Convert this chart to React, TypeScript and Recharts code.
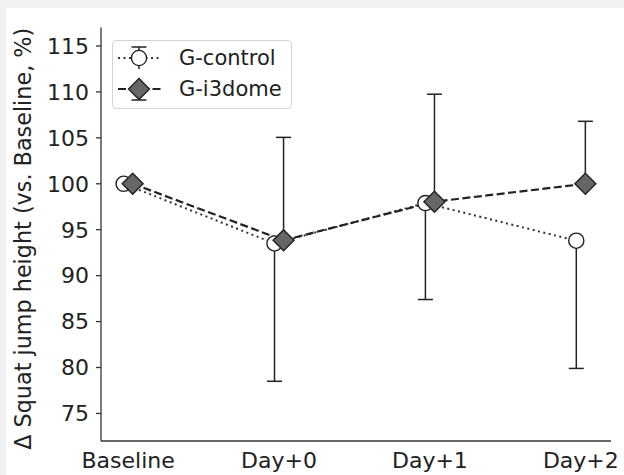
import React from "react";
import {
  ComposedChart,
  Line,
  XAxis,
  YAxis,
  ErrorBar,
  Legend,
} from "recharts";

const categories = ["Baseline", "Day+0", "Day+1", "Day+2"];
const controlMean = [100, 93.5, 97.9, 93.8];
const controlLowerErr = [0, 15.0, 10.5, 13.9];
const i3domeMean = [100, 93.85, 98.05, 100];
const i3domeUpperErr = [0, 11.2, 11.7, 6.8];
const yTicks = [75, 80, 85, 90, 95, 100, 105, 110, 115];

const OFFSET = 0.03;
const FONT = "'DejaVu Sans', sans-serif";
const INK = "#222";

const controlData = categories.map((c, i) => ({
  x: i - OFFSET,
  y: controlMean[i],
  err: [controlLowerErr[i], 0],
}));
const i3domeData = categories.map((c, i) => ({
  x: i + OFFSET,
  y: i3domeMean[i],
  err: [0, i3domeUpperErr[i]],
}));

const CircleDot = (props: any) => {
  const { cx, cy } = props;
  if (cx == null || cy == null) return null;
  return <circle cx={cx} cy={cy} r={7.6} fill="#fff" stroke={INK} strokeWidth={1.4} />;
};

const DiamondDot = (props: any) => {
  const { cx, cy } = props;
  if (cx == null || cy == null) return null;
  const r = 10.5;
  return (
    <path
      d={`M${cx},${cy - r}L${cx + r},${cy}L${cx},${cy + r}L${cx - r},${cy}Z`}
      fill="#666"
      stroke={INK}
      strokeWidth={1.4}
    />
  );
};

const LegendBox = () => (
  <div
    style={{
      width: 180,
      height: 69,
      boxSizing: "border-box",
      border: "1px solid #d4d4d4",
      borderRadius: 4,
      background: "rgba(255,255,255,0.85)",
    }}
  >
    <svg width={178} height={67} style={{ display: "block" }}>
      {/* G-control row */}
      <line x1={5} x2={49} y1={17} y2={17} stroke="#333" strokeWidth={2} strokeDasharray="2 3.5" />
      <line x1={26} x2={26} y1={6} y2={28} stroke={INK} strokeWidth={1.5} />
      <line x1={18.5} x2={33.5} y1={6} y2={6} stroke={INK} strokeWidth={1.5} />
      <circle cx={26} cy={17} r={7.6} fill="#fff" stroke={INK} strokeWidth={1.4} />
      <text x={66} y={17} dominantBaseline="central" fontFamily={FONT} fontSize={21} fill={INK}>
        G-control
      </text>
      {/* G-i3dome row */}
      <line x1={5} x2={49} y1={48} y2={48} stroke="#222" strokeWidth={2.2} strokeDasharray="8 3.5" />
      <line x1={26} x2={26} y1={37} y2={59} stroke={INK} strokeWidth={1.5} />
      <line x1={18.5} x2={33.5} y1={59} y2={59} stroke={INK} strokeWidth={1.5} />
      <path d="M26,37.5L36.5,48L26,58.5L15.5,48Z" fill="#666" stroke={INK} strokeWidth={1.4} />
      <text x={66} y={48} dominantBaseline="central" fontFamily={FONT} fontSize={21} fill={INK}>
        G-i3dome
      </text>
    </svg>
  </div>
);

const YLabel = (props: any) => {
  const vb = props.viewBox || {};
  const cy = (vb.y ?? 0) + (vb.height ?? 0) / 2 + 4.5;
  return (
    <text
      x={31}
      y={cy}
      transform={`rotate(-90, 31, ${cy})`}
      textAnchor="middle"
      fontFamily={FONT}
      fontSize={22.3}
      fill={INK}
    >
      Δ Squat jump height (vs. Baseline, %)
    </text>
  );
};

export default function App() {
  return (
    <div style={{ position: "absolute", left: 0, top: 0, width: 624, height: 475, background: "#f1f1f1" }}>
      <div style={{ position: "absolute", left: 6, top: 8, right: 0, bottom: 0, background: "#fff" }} />
      <div style={{ position: "absolute", left: 0, top: 0 }}>
        <ComposedChart
          width={624}
          height={475}
          margin={{ top: 27.6, right: 13, bottom: 0, left: 0 }}
        >
          <XAxis
            dataKey="x"
            type="number"
            domain={[-0.18, 3.2]}
            ticks={[0, 1, 2, 3]}
            tickFormatter={(v) => categories[Math.round(v)]}
            allowDataOverflow
            height={34}
            tickLine={false}
            tickSize={0}
            tickMargin={11}
            axisLine={{ stroke: "#333", strokeWidth: 1.3 }}
            tick={{ fontSize: 22, fontFamily: FONT, fill: INK }}
          />
          <YAxis
            type="number"
            domain={[72, 117]}
            ticks={yTicks}
            allowDataOverflow
            width={101}
            tickSize={5}
            tickMargin={7}
            tickLine={{ stroke: "#333", strokeWidth: 1.3 }}
            axisLine={{ stroke: "#333", strokeWidth: 1.3 }}
            tick={{ fontSize: 22, fontFamily: FONT, fill: INK }}
            label={<YLabel />}
          />
          <Legend
            layout="vertical"
            align="center"
            verticalAlign="middle"
            wrapperStyle={{ position: "absolute", left: 112, top: 40, width: 180, height: 69 }}
            content={() => <LegendBox />}
          />
          <Line
            name="G-control"
            data={controlData}
            dataKey="y"
            stroke="#333"
            strokeWidth={2}
            strokeDasharray="2 3.5"
            dot={<CircleDot />}
            activeDot={false}
            isAnimationActive={false}
          >
            <ErrorBar dataKey="err" direction="y" width={7.5} stroke={INK} strokeWidth={1.5} />
          </Line>
          <Line
            name="G-i3dome"
            data={i3domeData}
            dataKey="y"
            stroke="#222"
            strokeWidth={2.2}
            strokeDasharray="8 3.5"
            dot={<DiamondDot />}
            activeDot={false}
            isAnimationActive={false}
          >
            <ErrorBar dataKey="err" direction="y" width={7.5} stroke={INK} strokeWidth={1.5} />
          </Line>
        </ComposedChart>
      </div>
    </div>
  );
}
